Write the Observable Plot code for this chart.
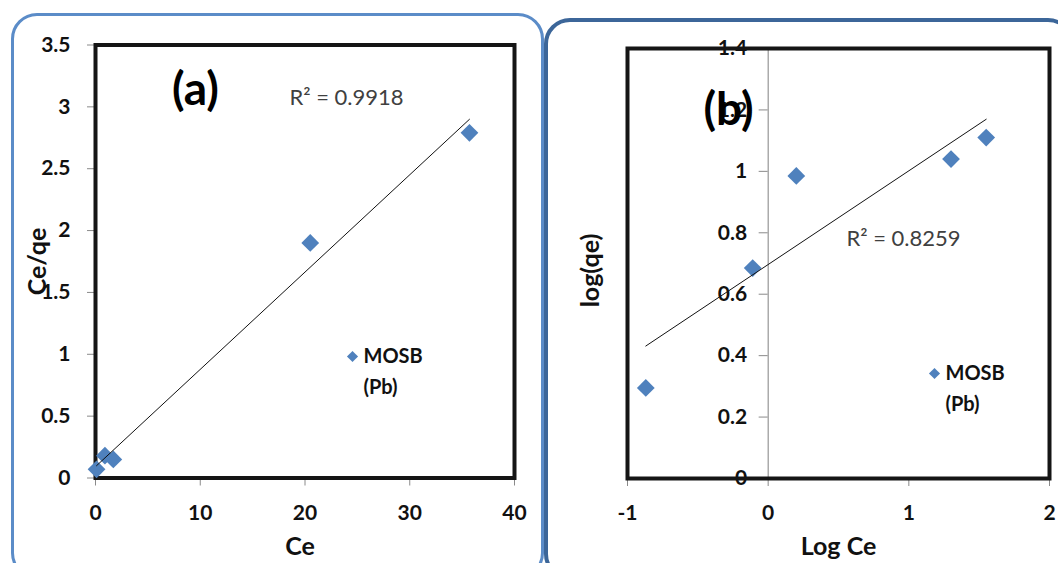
<!DOCTYPE html>
<html><head><meta charset="utf-8">
<script src="https://cdn.jsdelivr.net/npm/d3@7"></script>
<script src="https://cdn.jsdelivr.net/npm/@observablehq/plot@0.6"></script>
<style>
html,body{margin:0;padding:0;background:#fff;}
#root{position:relative;width:1058px;height:563px;overflow:hidden;background:#fff;font-family:Lato,sans-serif;}
.panel{position:absolute;top:0;}
.border{position:absolute;box-sizing:border-box;pointer-events:none;}
</style></head><body><div id="root"></div>
<script>
// ---- data (a): Langmuir plot ----
const ceA = [0.1, 0.9, 1.7, 20.5, 35.7];
const ceqeA = [0.07, 0.18, 0.15, 1.90, 2.79];
const xTicksA = [0, 10, 20, 30, 40];
const yTicksA = [0, 0.5, 1, 1.5, 2, 2.5, 3, 3.5];
const r2TextA = "R² = 0.9918";
// ---- data (b): Freundlich plot ----
const logCeB = [-0.87, -0.11, 0.2, 1.3, 1.55];
const logQeB = [0.295, 0.685, 0.985, 1.04, 1.11];
const xTicksB = [-1, 0, 1, 2];
const yTicksB = [0, 0.2, 0.4, 0.6, 0.8, 1, 1.2, 1.4];
const r2TextB = "R² = 0.8259";
const legendLines = ["MOSB", "(Pb)"];

const BLUE = "#4f81bd";
const FONT = "Lato, sans-serif";
const root = document.getElementById("root");

function panel(cfg) {
  const data = cfg.xs.map((x, i) => ({x, y: cfg.ys[i]}));
  const marks = [];
  if (cfg.crossAxis) marks.push(Plot.ruleX([0], {stroke: "#808080", strokeWidth: 1}));
  marks.push(
    Plot.axisX(cfg.xTicks, {tickSize: 8, tickPadding: 19, stroke: "#8a8a8a", fill: "#111",
      fontSize: 21, fontWeight: "bold", tickFormat: d => String(d), label: null}),
    cfg.crossAxis
      ? Plot.axisY(cfg.yTicks, {x: 0, anchor: "left", tickSize: 9, tickPadding: 12, stroke: "#8a8a8a", fill: "#111",
          fontSize: 21, fontWeight: "bold", tickFormat: d => String(d), label: null})
      : Plot.axisY(cfg.yTicks, {anchor: "left", tickSize: 8, tickPadding: 17, stroke: "#8a8a8a", fill: "#111",
          fontSize: 21, fontWeight: "bold", tickFormat: d => String(d), label: null}),
    Plot.frame({stroke: "#151515", strokeWidth: 4}),
    Plot.dot(data, {x: "x", y: "y", symbol: "diamond2", r: 8, fill: BLUE, stroke: "none"}),
    Plot.linearRegressionY(data, {x: "x", y: "y", stroke: "#111", strokeWidth: 1, ci: 0}),
    Plot.text([cfg.tag], {frameAnchor: "top-left", dx: cfg.tagPos[0], dy: cfg.tagPos[1],
      textAnchor: "middle", lineAnchor: "middle", fontSize: 46, fontWeight: "bold", fill: "#000"}),
    Plot.text([cfg.r2], {frameAnchor: "top-left", dx: cfg.r2Pos[0], dy: cfg.r2Pos[1],
      textAnchor: "middle", lineAnchor: "middle", fontSize: 22, fill: "#404040"}),
    Plot.dot([0], {frameAnchor: "top-left", dx: cfg.legPos[0], dy: cfg.legPos[1], symbol: "diamond2", r: 5, fill: BLUE}),
    Plot.text([legendLines[0]], {frameAnchor: "top-left", dx: cfg.legPos[0] + 11, dy: cfg.legPos[1],
      textAnchor: "start", lineAnchor: "middle", fontSize: 20, fontWeight: "bold", fill: "#111"}),
    Plot.text([legendLines[1]], {frameAnchor: "top-left", dx: cfg.legPos[0] + 11, dy: cfg.legPos[1] + 31,
      textAnchor: "start", lineAnchor: "middle", fontSize: 20, fontWeight: "bold", fill: "#111"}),
    Plot.text([cfg.xTitle], {frameAnchor: "bottom", dx: cfg.xTitlePos[0], dy: cfg.xTitlePos[1],
      textAnchor: "middle", lineAnchor: "middle", fontSize: 25, fontWeight: "bold", fill: "#111"}),
    Plot.text([cfg.yTitle], {frameAnchor: "left", dx: cfg.yTitlePos[0], dy: cfg.yTitlePos[1], rotate: -90,
      textAnchor: "middle", lineAnchor: "middle", fontSize: 25, fontWeight: "bold", fill: "#111"})
  );
  const svg = Plot.plot({
    width: cfg.width, height: cfg.height,
    marginLeft: cfg.ml, marginRight: cfg.mr, marginTop: cfg.mt, marginBottom: cfg.mb,
    style: {background: "transparent", fontFamily: FONT, overflow: "visible"},
    x: {domain: cfg.xDomain},
    y: {domain: cfg.yDomain},
    marks
  });
  const wrap = document.createElement("div");
  wrap.className = "panel";
  wrap.style.left = cfg.left + "px";
  wrap.style.width = cfg.width + "px";
  wrap.appendChild(svg);
  root.appendChild(wrap);
}

panel({
  left: 0, width: 540, height: 563, ml: 95, mr: 26, mt: 44.5, mb: 85.5,
  xs: ceA, ys: ceqeA, xDomain: [0, 40], yDomain: [0, 3.5], xTicks: xTicksA, yTicks: yTicksA,
  crossAxis: false, tag: "(a)", tagPos: [100, 45], r2: r2TextA, r2Pos: [251, 53],
  legPos: [257, 311.5], xTitle: "Ce", xTitlePos: [-5, 68.5], yTitle: "Ce/qe", yTitlePos: [-58, 0]
});
panel({
  left: 540, width: 518, height: 563, ml: 87, mr: 9, mt: 48, mb: 85,
  xs: logCeB, ys: logQeB, xDomain: [-1, 2], yDomain: [0, 1.4], xTicks: xTicksB, yTicks: yTicksB,
  crossAxis: true, tag: "(b)", tagPos: [101, 62], r2: r2TextB, r2Pos: [276, 190],
  legPos: [307, 325], xTitle: "Log Ce", xTitlePos: [0, 68], yTitle: "log(qe)", yTitlePos: [-37, 7]
});

// rounded panel borders
const b1 = document.createElement("div");
b1.className = "border";
Object.assign(b1.style, {left: "11px", top: "13px", width: "533px", height: "566px",
  border: "3px solid #5b8cc8", borderRadius: "26px"});
const b2 = document.createElement("div");
b2.className = "border";
Object.assign(b2.style, {left: "543.5px", top: "18px", width: "530px", height: "562px",
  border: "4px solid #3c6699", borderRadius: "26px"});
root.appendChild(b1);
root.appendChild(b2);
</script></body></html>
